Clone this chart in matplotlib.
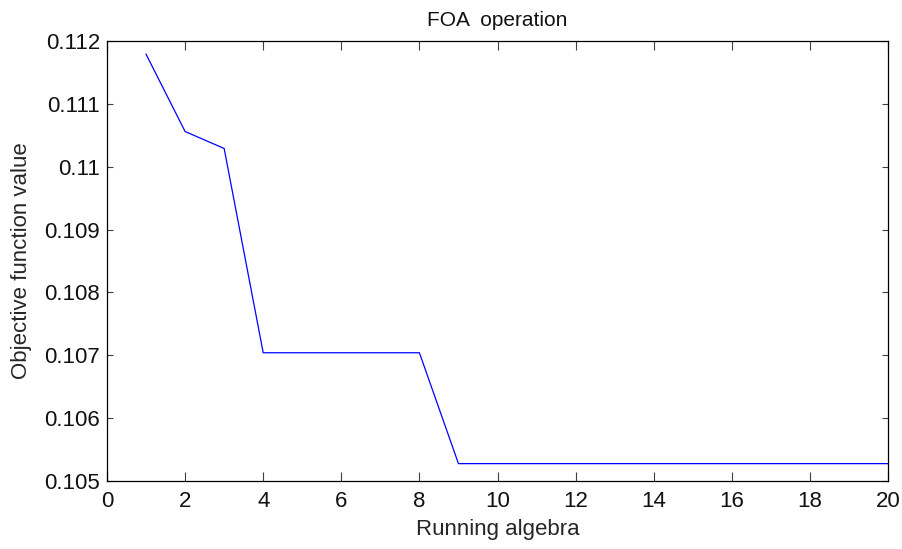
#!/usr/bin/env python3
"""FOA operation - objective value per run"""

import matplotlib
matplotlib.use("Agg")
import matplotlib.pyplot as plt

generations = list(range(1, 21))
objective = [0.11179, 0.11056, 0.11029, 0.10704, 0.10704, 0.10704, 0.10704, 0.10704,
             0.105276, 0.105276, 0.105276, 0.105276, 0.105276, 0.105276, 0.105276,
             0.105276, 0.105276, 0.105276, 0.105276, 0.105276]
x_ticks = list(range(0, 21, 2))
y_ticks = [0.105, 0.106, 0.107, 0.108, 0.109, 0.11, 0.111, 0.112]
y_tick_labels = ['0.105', '0.106', '0.107', '0.108', '0.109', '0.11', '0.111', '0.112']

plt.rcParams['font.family'] = ['Liberation Sans', 'DejaVu Sans']
plt.rcParams['font.size'] = 16

fig = plt.figure(figsize=(9.03, 5.49), dpi=100)
ax = fig.add_axes([0.1185, 0.1239, 0.8649, 0.8014])

ax.plot(generations, objective, color='#0000ff', linewidth=0.9)

ax.set_xlim(0, 20)
ax.set_ylim(0.105, 0.112)
ax.set_xticks(x_ticks)
ax.set_yticks(y_ticks)
ax.set_yticklabels(y_tick_labels)

ax.tick_params(axis='x', direction='in', top=True, length=6.5, width=0.8,
               pad=7, color='#404040', labelcolor='#111111')
ax.tick_params(axis='y', direction='in', right=True, length=4.3, width=0.8,
               pad=5, color='#404040', labelcolor='#111111')
for s in ax.spines.values():
    s.set_linewidth(0.9)
    s.set_color('#000000')

ax.set_title('FOA  operation', fontsize=15, pad=11, color='#111111')
ax.set_xlabel('Running algebra', color='#262626', labelpad=5)
ax.set_ylabel('Objective function value', color='#262626', labelpad=9)

fig.savefig('out.png', dpi=100)
